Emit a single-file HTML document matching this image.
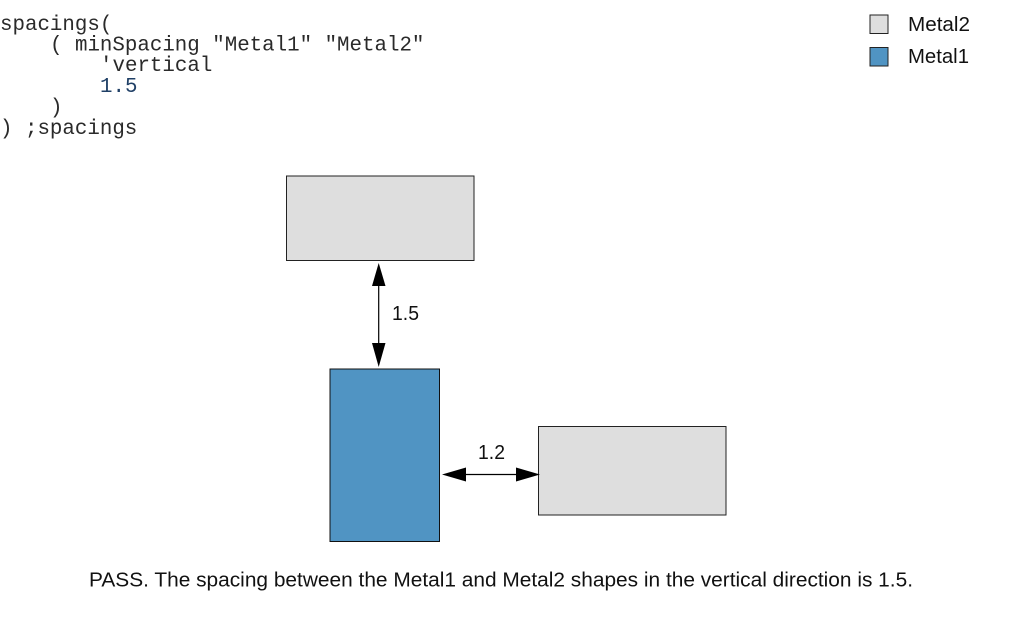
<!DOCTYPE html>
<html>
<head>
<meta charset="utf-8">
<style>
html,body{margin:0;padding:0;background:#fff;width:1013px;height:627px;overflow:hidden}
svg{display:block}
.c{font-family:"Liberation Mono",monospace;font-size:20.8px;fill:#2a2a2a}
.s{font-family:"Liberation Sans",sans-serif;font-size:20.2px;fill:#111}
</style>
</head>
<body>
<svg width="1013" height="627" viewBox="0 0 1013 627" xmlns="http://www.w3.org/2000/svg">
<rect width="1013" height="627" fill="#fff"/>
<text class="c" x="0" y="30">spacings(</text>
<text class="c" x="50" y="50.5">( minSpacing "Metal1" "Metal2"</text>
<text class="c" x="100" y="71">'vertical</text>
<text class="c" x="100" y="92" style="fill:#1f3f66">1.5</text>
<text class="c" x="50" y="113">)</text>
<text class="c" x="0" y="134">) ;spacings</text>

<rect x="870" y="15" width="18" height="18.5" fill="#dedede" stroke="#222" stroke-width="1"/>
<rect x="870" y="47.5" width="18" height="18.5" fill="#5094c3" stroke="#222" stroke-width="1"/>
<text class="s" x="908" y="31" textLength="62" lengthAdjust="spacingAndGlyphs">Metal2</text>
<text class="s" x="908" y="63" textLength="61" lengthAdjust="spacingAndGlyphs">Metal1</text>

<rect x="286.5" y="176" width="187.5" height="84.5" fill="#dedede" stroke="#222" stroke-width="1"/>
<rect x="330" y="369" width="109.5" height="172.5" fill="#5094c3" stroke="#111" stroke-width="1"/>
<rect x="538.5" y="426.5" width="187.5" height="88.5" fill="#dedede" stroke="#222" stroke-width="1"/>

<line x1="378.7" y1="280" x2="378.7" y2="350" stroke="#000" stroke-width="1.2"/>
<polygon points="378.7,263 372,286 385.5,286" fill="#000"/>
<polygon points="378.7,367 372,343 385.5,343" fill="#000"/>
<text class="s" x="392" y="320" textLength="27" lengthAdjust="spacingAndGlyphs">1.5</text>

<line x1="460" y1="474.5" x2="525" y2="474.5" stroke="#000" stroke-width="1.2"/>
<polygon points="442,474.5 466,467.5 466,481.5" fill="#000"/>
<polygon points="540,474.5 516,467.5 516,481.5" fill="#000"/>
<text class="s" x="478" y="459" textLength="27" lengthAdjust="spacingAndGlyphs">1.2</text>

<text class="s" x="89" y="586.5" textLength="824" lengthAdjust="spacingAndGlyphs">PASS. The spacing between the Metal1 and Metal2 shapes in the vertical direction is 1.5.</text>
</svg>
</body>
</html>
